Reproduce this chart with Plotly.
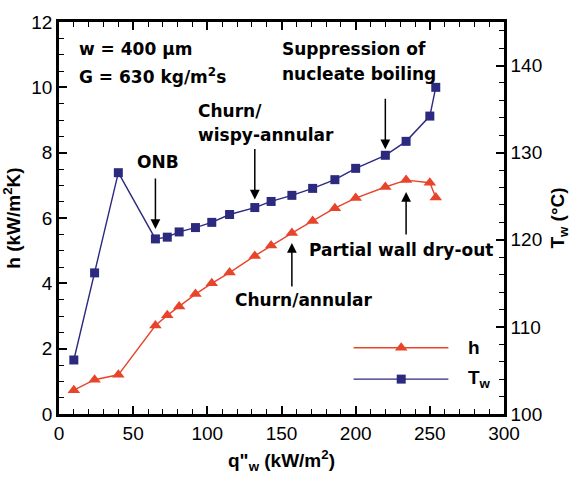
import plotly.graph_objects as go

# Data
q = [10, 24, 40, 65, 73, 81, 92, 103, 115, 132, 143, 157, 171, 186, 200, 220, 234, 250, 254]
h = [0.73, 1.05, 1.2, 2.71, 3.02, 3.29, 3.67, 4.0, 4.33, 4.84, 5.16, 5.54, 5.91, 6.30, 6.61, 6.95, 7.16, 7.08, 6.63]
Tw = [106.2, 116.2, 127.7, 120.1, 120.3, 120.9, 121.4, 122.0, 122.9, 123.7, 124.4, 125.1, 125.9, 126.9, 128.2, 129.7, 131.3, 134.2, 137.5]

x_ticks = [0, 50, 100, 150, 200, 250, 300]
h_ticks = [0, 2, 4, 6, 8, 10, 12]
T_ticks = [100, 110, 120, 130, 140]

BLUE = "#2B2A7E"
RED = "#E8442B"
FONT = "Liberation Sans, Arial, sans-serif"
AFONT = "DejaVu Sans, Liberation Sans, sans-serif"

fig = go.Figure()
fig.add_trace(go.Scatter(x=q, y=h, mode="lines+markers", name="h",
                         line=dict(color=RED, width=1.4),
                         marker=dict(symbol="triangle-up", size=11, color=RED),
                         yaxis="y", showlegend=False))
fig.add_trace(go.Scatter(x=q, y=Tw, mode="lines+markers", name="T<sub>w</sub>",
                         line=dict(color=BLUE, width=1.4),
                         marker=dict(symbol="square", size=9, color=BLUE),
                         yaxis="y2", showlegend=False))

# Manual legend samples (on a hidden overlay axis in plot-fraction units)
leg_x = [0.662, 0.875]
fig.add_trace(go.Scatter(x=leg_x, y=[0.169, 0.169], mode="lines", line=dict(color=RED, width=1.4),
                         xaxis="x3", yaxis="y3", showlegend=False, hoverinfo="skip"))
fig.add_trace(go.Scatter(x=[0.769], y=[0.169], mode="markers",
                         marker=dict(symbol="triangle-up", size=11, color=RED),
                         xaxis="x3", yaxis="y3", showlegend=False, hoverinfo="skip"))
fig.add_trace(go.Scatter(x=leg_x, y=[0.089, 0.089], mode="lines", line=dict(color=BLUE, width=1.4),
                         xaxis="x3", yaxis="y3", showlegend=False, hoverinfo="skip"))
fig.add_trace(go.Scatter(x=[0.769], y=[0.089], mode="markers",
                         marker=dict(symbol="square", size=9, color=BLUE),
                         xaxis="x3", yaxis="y3", showlegend=False, hoverinfo="skip"))

tickfont = dict(family=FONT, size=19, color="black")
titlefont = dict(family=FONT, size=19, color="black")

fig.update_layout(
    width=578, height=481,
    margin=dict(l=58, r=67, t=17, b=63),
    plot_bgcolor="white", paper_bgcolor="white",
    font=dict(family=FONT, color="black"),
    xaxis=dict(range=[0, 300], tickvals=x_ticks, ticks="inside", ticklen=8, tickwidth=1.5,
               tickcolor="black", showline=True, linewidth=2.5, linecolor="black",
               mirror="ticks", showgrid=False, zeroline=False, tickfont=tickfont,
               minor=dict(dtick=10, ticks="inside", ticklen=5, tickwidth=1.2, tickcolor="black"),
               title=dict(text="<b>q\"<sub>w</sub> (kW/m<sup>2</sup>)</b>", font=titlefont, standoff=12)),
    yaxis=dict(range=[0, 12], tickvals=h_ticks, ticks="inside", ticklen=8, tickwidth=1.5,
               tickcolor="black", showline=True, linewidth=2.5, linecolor="black",
               showgrid=False, zeroline=False, tickfont=tickfont,
               minor=dict(dtick=0.5, ticks="inside", ticklen=5, tickwidth=1.2, tickcolor="black"),
               title=dict(text="<b>h (kW/m<sup>2</sup>K)</b>", font=titlefont, standoff=6)),
    yaxis2=dict(range=[100, 145], tickvals=T_ticks, overlaying="y", side="right", anchor="x",
                ticks="inside", ticklen=8, tickwidth=1.5, tickcolor="black",
                showline=True, linewidth=2.5, linecolor="black",
                showgrid=False, zeroline=False, tickfont=tickfont,
                minor=dict(dtick=2, ticks="inside", ticklen=5, tickwidth=1.2, tickcolor="black"),
                title=dict(text="<b>T<sub>w</sub> (°C)</b>", font=titlefont, standoff=10)),
    xaxis3=dict(range=[0, 1], overlaying="x", visible=False, anchor="y3"),
    yaxis3=dict(range=[0, 1], overlaying="y", visible=False, anchor="x3"),
)

afont = dict(family=AFONT, size=17, color="black")


def label(text, x, y, xanchor="left"):
    fig.add_annotation(text="<b>" + text + "</b>", x=x, y=y, xref="x", yref="y",
                       xanchor=xanchor, yanchor="middle", showarrow=False, font=afont)


label("w = 400 μm", 12.4, 11.17)
label("G = 630 kg/m<sup>2</sup>s", 12.4, 10.36)
label("ONB", 66.5, 7.70, "center")
label("Churn/", 92.6, 9.28)
label("wispy-annular", 92.6, 8.53)
label("Suppression of", 149.2, 11.17)
label("nucleate boiling", 149.2, 10.42)
label("Partial wall dry-out", 166.9, 5.03)
label("Churn/annular", 117.2, 3.48)


def arrow(x, y, yref, ay, standoff):
    fig.add_annotation(text="", x=x, y=y, xref="x", yref=yref, ax=0, ay=ay,
                       axref="pixel", ayref="pixel", showarrow=True, arrowhead=2,
                       arrowsize=1.3, arrowwidth=1.5, arrowcolor="black", standoff=standoff)


arrow(q[3], Tw[3], "y2", -62, 10)
arrow(q[9], Tw[9], "y2", -60, 8)
arrow(q[15], Tw[15], "y2", -58, 6)
arrow(q[11], h[11], "y", 55, 10)
arrow(q[16], h[16], "y", 56, 12)

# legend labels
fig.add_annotation(text="<b>h</b>", x=0.914, y=0.169, xref="paper", yref="paper",
                   xanchor="left", yanchor="middle", showarrow=False,
                   font=dict(family=FONT, size=19, color="black"))
fig.add_annotation(text="<b>T<sub>w</sub></b>", x=0.914, y=0.089, xref="paper", yref="paper",
                   xanchor="left", yanchor="middle", showarrow=False,
                   font=dict(family=FONT, size=19, color="black"))

fig.write_html("out.html")
